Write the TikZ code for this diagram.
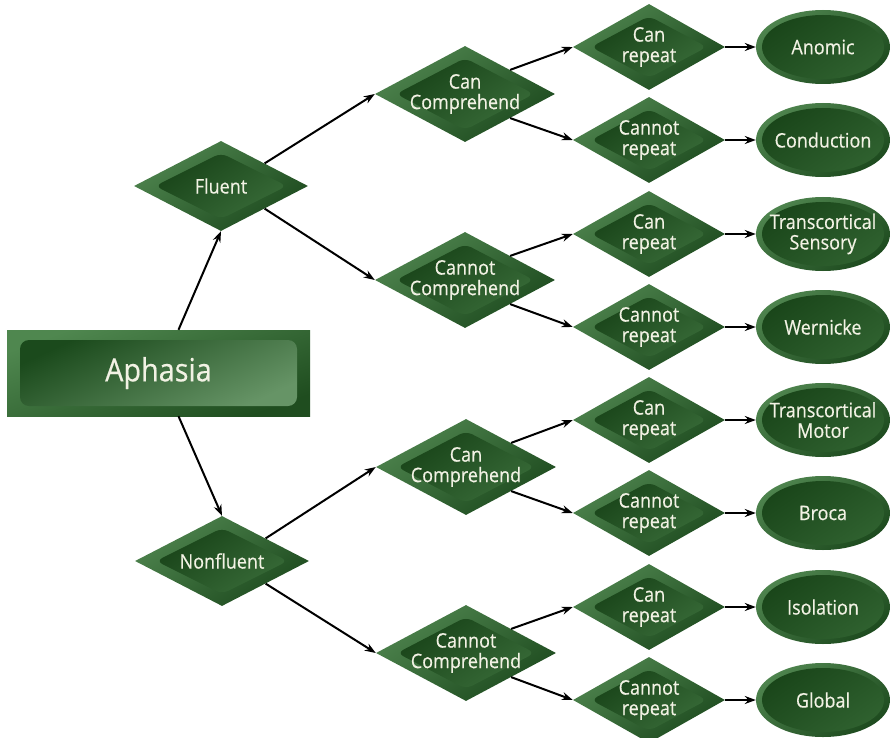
\documentclass[tikz,border=0pt]{standalone}
\usepackage{fontspec}
\setmainfont{Open Sans}[FakeStretch=0.9, FakeBold=0.4]
\usetikzlibrary{shapes.geometric,arrows.meta}

\definecolor{rimlight}{HTML}{4E844E}
\definecolor{rimdark}{HTML}{1D4A1E}
\definecolor{coredark}{HTML}{184318}
\definecolor{corelight}{HTML}{386B38}
\definecolor{ellcoredark}{HTML}{1A461A}
\definecolor{ellcorelight}{HTML}{2F612F}
\definecolor{boxlight}{HTML}{4F874F}
\definecolor{boxdark}{HTML}{1F4D1F}
\definecolor{boxcoredark}{HTML}{1B4A1C}
\definecolor{boxcorelight}{HTML}{669466}
\definecolor{labelcol}{HTML}{F2F2E4}

\tikzset{
  rim/.style={diamond, inner sep=0pt, top color=rimlight, bottom color=rimdark, shading angle=35},
  core/.style={diamond, inner sep=0pt, rounded corners=7pt, top color=coredark, bottom color=corelight, shading angle=35},
  flrim/.style={rim, minimum width=174pt, minimum height=90pt},
  flcore/.style={core, minimum width=132pt, minimum height=66pt},
  comprim/.style={rim, minimum width=180pt, minimum height=96pt},
  compcore/.style={core, minimum width=138pt, minimum height=72pt},
  reprim/.style={rim, minimum width=152pt, minimum height=86pt},
  repcore/.style={core, minimum width=116pt, minimum height=62pt},
  erim/.style={ellipse, inner sep=0pt, minimum width=134pt, minimum height=74pt, top color=rimlight, bottom color=rimdark, shading angle=35},
  ecore/.style={ellipse, inner sep=0pt, minimum width=122pt, minimum height=64pt, top color=ellcoredark, bottom color=ellcorelight, shading angle=35},
  txt/.style={text=labelcol, align=center, inner sep=0pt, font=\fontsize{20}{20.5}\selectfont},
  arr/.style={-{Stealth[length=11pt,width=8pt]}, line width=2pt, black},
}

% rim, bevelled core and label of one decision or outcome
\newcommand\decisionnode[5]{%
  \node[#3] (#1) at (#2) {};
  \node[#4] (#1-core) at (#1) {};
  \node[txt] (#1-text) at (#1) {#5};
}

\begin{document}
\begin{tikzpicture}[x=1pt,y=-1pt]
\useasboundingbox (0,0) rectangle (891,738);

% root box
\node[rectangle, inner sep=0pt, minimum width=303pt, minimum height=86pt,
      top color=boxlight, bottom color=boxdark, shading angle=20] (aph) at (158.5,373) {};
\node[rectangle, inner sep=0pt, rounded corners=9pt, minimum width=277pt, minimum height=66pt,
      top color=boxcoredark, bottom color=boxcorelight, shading angle=25] (aph-core) at (aph) {};
\node[txt, font=\fontsize{32}{34}\selectfont] (aph-text) at (aph) {Aphasia};

% fluency
\decisionnode{fl}{221,186}{flrim}{flcore}{Fluent}
\decisionnode{nf}{222,561}{flrim}{flcore}{Nonfluent}

% comprehension
\decisionnode{cc1}{465,94}{comprim}{compcore}{Can\\Comprehend}
\decisionnode{nc1}{465,280}{comprim}{compcore}{Cannot\\Comprehend}
\decisionnode{cc2}{466,467}{comprim}{compcore}{Can\\Comprehend}
\decisionnode{nc2}{466,653}{comprim}{compcore}{Cannot\\Comprehend}

% repetition
\decisionnode{r1}{649,47}{reprim}{repcore}{Can\\repeat}
\decisionnode{r2}{649,140}{reprim}{repcore}{Cannot\\repeat}
\decisionnode{r3}{649,234}{reprim}{repcore}{Can\\repeat}
\decisionnode{r4}{649,327}{reprim}{repcore}{Cannot\\repeat}
\decisionnode{r5}{649,420}{reprim}{repcore}{Can\\repeat}
\decisionnode{r6}{649,513}{reprim}{repcore}{Cannot\\repeat}
\decisionnode{r7}{649,607}{reprim}{repcore}{Can\\repeat}
\decisionnode{r8}{649,700}{reprim}{repcore}{Cannot\\repeat}

% aphasia types
\decisionnode{e1}{823,47}{erim}{ecore}{Anomic}
\decisionnode{e2}{823,140}{erim}{ecore}{Conduction}
\decisionnode{e3}{823,234}{erim}{ecore}{Transcortical\\Sensory}
\decisionnode{e4}{823,327}{erim}{ecore}{Wernicke}
\decisionnode{e5}{823,420}{erim}{ecore}{Transcortical\\Motor}
\decisionnode{e6}{823,513}{erim}{ecore}{Broca}
\decisionnode{e7}{823,607}{erim}{ecore}{Isolation}
\decisionnode{e8}{823,700}{erim}{ecore}{Global}

% connectors
\draw[arr] ([xshift=20pt]aph.north) -- (fl.south);
\draw[arr] ([xshift=20pt]aph.south) -- (nf.north);

\draw[arr] (fl.north east) -- (cc1.west);
\draw[arr] (fl.south east) -- (nc1.west);
\draw[arr] (nf.north east) -- (cc2.west);
\draw[arr] (nf.south east) -- (nc2.west);

\draw[arr] (cc1.north east) -- (r1.west);
\draw[arr] (cc1.south east) -- (r2.west);
\draw[arr] (nc1.north east) -- (r3.west);
\draw[arr] (nc1.south east) -- (r4.west);
\draw[arr] (cc2.north east) -- (r5.west);
\draw[arr] (cc2.south east) -- (r6.west);
\draw[arr] (nc2.north east) -- (r7.west);
\draw[arr] (nc2.south east) -- (r8.west);

\foreach \i in {1,...,8} \draw[arr] (r\i.east) -- (e\i.west);
\end{tikzpicture}
\end{document}
